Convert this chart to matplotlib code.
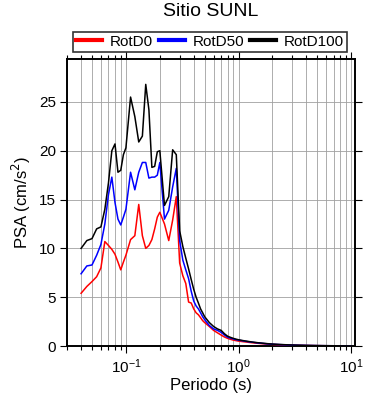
import matplotlib

matplotlib.use("Agg")
import matplotlib.pyplot as plt
from matplotlib.ticker import LogLocator, NullFormatter, MultipleLocator

plt.rcParams["font.family"] = ["Liberation Sans", "DejaVu Sans"]

# periods (s)
periods = [
    0.04, 0.045, 0.05, 0.055, 0.06, 0.065, 0.07, 0.075, 0.08, 0.085, 0.09, 0.095, 0.1,
    0.11, 0.12, 0.13, 0.14, 0.15, 0.16, 0.17, 0.18, 0.19, 0.2,
    0.22, 0.24, 0.26, 0.28,
    0.3, 0.32, 0.34, 0.36, 0.38, 0.4, 0.42, 0.44, 0.46, 0.48, 0.5,
    0.55, 0.6, 0.65, 0.7, 0.75, 0.8, 0.85, 0.9, 0.95, 1.0,
    1.1, 1.2, 1.3, 1.4, 1.5, 1.6, 1.7, 1.8, 1.9, 2.0,
    2.2, 2.4, 2.6, 2.8, 3.0, 3.2, 3.4, 3.6, 3.8, 4.0, 4.2, 4.4, 4.6, 4.8, 5.0,
    5.5, 6.0, 6.5, 7.0, 7.5, 8.0, 8.5, 9.0, 9.5, 10.0,
]

rotd100 = [
    10.0, 10.8, 11.0, 12.0, 12.2, 14.0, 16.7, 20.0, 20.7, 17.8, 18.0, 19.6, 20.3,
    25.5, 23.5, 20.9, 21.5, 26.8, 24.2, 18.3, 18.4, 19.9, 20.0,
    14.4, 15.3, 20.1, 19.6,
    11.8, 10.2, 9.0, 7.9, 6.8, 5.8, 5.0, 4.4, 3.8, 3.4, 3.0,
    2.4, 2.0, 1.75, 1.6, 1.25, 1.0, 0.88, 0.78, 0.7, 0.64,
    0.55, 0.48, 0.42, 0.37, 0.33, 0.3, 0.27, 0.24, 0.22, 0.2,
    0.17, 0.15, 0.13, 0.115, 0.1, 0.09, 0.082, 0.075, 0.068, 0.062, 0.057, 0.053, 0.049, 0.046, 0.043,
    0.037, 0.032, 0.028, 0.025, 0.022, 0.02, 0.018, 0.016, 0.015, 0.014,
]

rotd50 = [
    7.4, 8.2, 8.3, 9.3, 10.4, 12.5, 15.5, 17.3, 14.7, 13.0, 12.4, 13.2, 14.0,
    17.8, 16.0, 17.8, 18.8, 18.8, 17.2, 17.3, 17.3, 17.5, 18.8,
    13.0, 13.9, 16.3, 18.2,
    10.8, 8.8, 7.8, 6.9, 5.6, 4.6, 4.1, 3.8, 3.4, 3.0, 2.7,
    2.1, 1.75, 1.6, 1.4, 1.12, 0.9, 0.8, 0.72, 0.65, 0.6,
    0.52, 0.45, 0.4, 0.35, 0.31, 0.28, 0.25, 0.22, 0.2, 0.18,
    0.155, 0.135, 0.12, 0.105, 0.092, 0.083, 0.075, 0.068, 0.062, 0.057, 0.052, 0.048, 0.045, 0.042, 0.039,
    0.034, 0.029, 0.026, 0.023, 0.02, 0.018, 0.016, 0.015, 0.014, 0.013,
]

rotd0 = [
    5.4, 6.1, 6.6, 7.1, 8.0, 10.7, 10.3, 9.9, 9.4, 8.6, 7.8, 8.6, 9.3,
    10.9, 11.3, 14.5, 11.3, 10.0, 10.3, 10.9, 12.0, 13.2, 13.7,
    12.5, 10.8, 12.9, 15.3,
    8.5, 7.2, 6.4, 4.5, 4.4, 3.8, 3.4, 3.2, 2.9, 2.6, 2.4,
    2.0, 1.6, 1.35, 1.12, 0.92, 0.78, 0.68, 0.6, 0.55, 0.5,
    0.44, 0.39, 0.34, 0.3, 0.27, 0.24, 0.22, 0.2, 0.18, 0.16,
    0.14, 0.12, 0.105, 0.095, 0.085, 0.076, 0.068, 0.062, 0.056, 0.051, 0.047, 0.044, 0.041, 0.038, 0.035,
    0.03, 0.026, 0.023, 0.021, 0.018, 0.016, 0.015, 0.013, 0.012, 0.011,
]

fig = plt.figure(figsize=(3.9, 4.0), dpi=100)
ax = fig.add_axes([67 / 390, 54 / 400, 288 / 390, 287 / 400])

ax.plot(periods, rotd0, color="red", lw=1.1, label="RotD0", zorder=3)
ax.plot(periods, rotd50, color="blue", lw=1.1, label="RotD50", zorder=3)
ax.plot(periods, rotd100, color="black", lw=1.1, label="RotD100", zorder=3)

ax.set_xscale("log")
ax.set_xlim(0.03, 10.8)
ax.set_ylim(0, 29.4)
ax.xaxis.set_major_locator(LogLocator(base=10, numticks=10))
ax.xaxis.set_minor_locator(LogLocator(base=10, subs=range(2, 10), numticks=20))
ax.xaxis.set_minor_formatter(NullFormatter())
ax.yaxis.set_major_locator(MultipleLocator(5))

ax.grid(True, which="both", axis="x", color="#a0a0a0", lw=0.6)
ax.grid(True, which="major", axis="y", color="#a0a0a0", lw=0.6)

ax.tick_params(which="both", direction="out", top=True, right=True,
               labelsize=11, width=0.8, colors="black")
ax.tick_params(which="major", length=5, pad=3)
ax.tick_params(which="minor", length=3)
for s in ax.spines.values():
    s.set_linewidth(1.4)

ax.set_xlabel("Periodo (s)", fontsize=12, labelpad=2)
ax.set_ylabel("PSA (cm/s$^2$)", fontsize=12, labelpad=4)
ax.set_title("Sitio SUNL", fontsize=14, pad=31)

leg = ax.legend(loc="lower left", bbox_to_anchor=(0.021, 1.025, 0.951, 0.078),
                mode="expand", ncol=3, fontsize=11, frameon=True, fancybox=False,
                handlelength=1.7, handletextpad=0.5, borderpad=0.2,
                borderaxespad=0)
leg.get_frame().set_edgecolor("black")
leg.get_frame().set_linewidth(1.2)
for h in leg.get_lines():
    h.set_linewidth(3)

fig.savefig("out.png", dpi=100)
